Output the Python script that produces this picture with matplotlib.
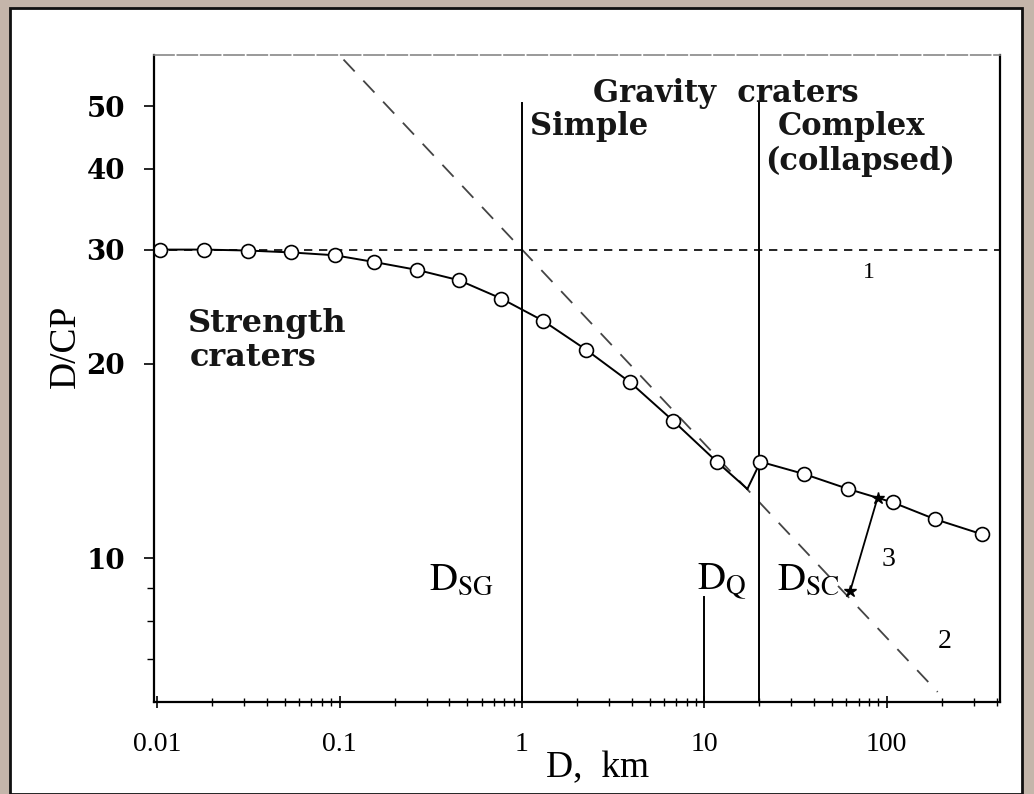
import matplotlib.pyplot as plt
from matplotlib.patches import Rectangle
from matplotlib.ticker import FixedLocator, NullFormatter

# crater depth-to-central-peak ratio vs diameter
diam = [0.0104, 0.0181, 0.0313, 0.0538, 0.094, 0.155, 0.267, 0.451, 0.77,
        1.30, 2.25, 3.92, 6.76, 11.7]
ratio = [30.0, 30.0, 29.9, 29.7, 29.4, 28.7, 27.9, 26.9, 25.2,
         23.3, 21.0, 18.7, 16.3, 14.1]

# drop at the simple/complex transition, then complex craters
kink_d, kink_r = 17.2, 12.8
diam_cx = [20.3, 35.2, 61.4, 108, 183, 331]
ratio_cx = [14.1, 13.5, 12.8, 12.2, 11.5, 10.9]

# line 3: shift from the gravity trend to the complex branch
shift_d = [63, 89]
shift_r = [8.9, 12.4]

# line 2: gravity trend, D/CP = 30 * D^-0.3
trend_d = [0.105, 190]
trend_exp = -0.3

x_ticks = [0.01, 0.1, 1, 10, 100]
x_labels = ['0.01', '0.1', '1', '10', '100']
y_ticks = [10, 20, 30, 40, 50]

serif = 'Liberation Serif'
label_font = 'DejaVu Serif'
plt.rcParams['mathtext.fontset'] = 'stix'

fig = plt.figure(figsize=(10.34, 7.94), dpi=100)
fig.patch.set_facecolor('#c4b5aa')
fig.patches.append(Rectangle((10 / 1034, 0), 1012 / 1034, 1 - 8 / 794,
                             transform=fig.transFigure, facecolor='white',
                             edgecolor='#111111', lw=2, zorder=-10))

ax = fig.add_axes([0.149, 0.116, 0.818, 0.815])
ax.set_facecolor('white')
ax.set_xscale('log')
ax.set_yscale('log')
ax.set_xlim(0.0096, 417)
ax.set_ylim(6, 60)

k = 'black'
ax.axhline(30, color=k, lw=1.2, ls=(0, (5, 4)))
tr = [30 * d ** trend_exp for d in trend_d]
ax.plot(trend_d, tr, color='#444444', lw=1.3, ls=(0, (9, 7)))

ax.plot([1, 1], [6, 50.5], color=k, lw=1.4)
ax.plot([20, 20], [6, 50.5], color=k, lw=1.4)
ax.plot([10, 10], [6, 8.7], color=k, lw=1.4)

ax.plot(diam + [kink_d], ratio + [kink_r], color=k, lw=1.4)
ax.plot([kink_d] + diam_cx, [kink_r] + ratio_cx, color=k, lw=1.4)
ax.plot(diam, ratio, 'o', ms=10, mfc='white', mec=k, mew=1.2)
ax.plot(diam_cx, ratio_cx, 'o', ms=10, mfc='white', mec=k, mew=1.2)
ax.plot(shift_d, shift_r, color=k, lw=1.3)
ax.plot(shift_d, shift_r, '*', color=k, ms=9)

ax.set_xticks(x_ticks)
ax.set_xticklabels(x_labels)
ax.set_yticks(y_ticks)
ax.set_yticklabels([str(v) for v in y_ticks])
ax.yaxis.set_minor_locator(FixedLocator([7, 8, 9]))
ax.yaxis.set_minor_formatter(NullFormatter())
ax.tick_params(axis='x', which='major', direction='inout', length=8, width=1.2,
               pad=18)
ax.tick_params(axis='x', which='minor', direction='inout', length=6, width=1)
ax.tick_params(axis='y', which='major', direction='out', length=7, width=1.2,
               pad=14)
ax.tick_params(axis='y', which='minor', direction='out', length=5, width=1)
for lab in ax.get_xticklabels():
    lab.set_fontfamily(serif)
    lab.set_fontsize(20)
for lab in ax.get_yticklabels():
    lab.set_fontfamily(label_font)
    lab.set_fontsize(20)
    lab.set_fontweight('bold')

for side in ['left', 'bottom', 'right']:
    ax.spines[side].set_linewidth(1.6)
ax.spines['top'].set_color('#888888')
ax.spines['top'].set_linewidth(1.2)
ax.spines['top'].set_linestyle((0, (12, 2)))

ax.set_xlabel('D,  km', fontfamily=serif, fontsize=27)
ax.xaxis.set_label_coords(0.524, -0.076)
ax.set_ylabel('D/CP', fontfamily=serif, fontsize=27)
ax.yaxis.set_label_coords(-0.084, 0.549)

tk = dict(fontfamily=label_font, fontweight='bold', fontsize=22,
          color='#161616', va='baseline')
ax.text(0.0147, 22.4, 'Strength', **dict(tk, fontsize=23))
ax.text(0.0150, 19.8, 'craters', **dict(tk, fontsize=23))
ax.text(2.45, 50.8, 'Gravity  craters', **tk)
ax.text(1.1, 45.1, 'Simple', **tk)
ax.text(25.3, 45.1, 'Complex', **tk)
ax.text(21.5, 39.8, '(collapsed)', **tk)
ax.text(74, 27.7, '1', fontfamily=serif, fontsize=17, va='center')
ax.text(94, 9.95, '3', fontfamily=serif, fontsize=20, va='center')
ax.text(190, 7.45, '2', fontfamily=serif, fontsize=20, va='center')

ds = dict(fontsize=28, va='baseline')
ax.text(0.31, 8.95, r'$\mathrm{D}_{\mathrm{SG}}$', **ds)
ax.text(9.1, 8.95, r'$\mathrm{D}_{\mathrm{Q}}$', **ds)
ax.text(25.0, 8.95, r'$\mathrm{D}_{\mathrm{SC}}$', **ds)

fig.savefig('out.png', dpi=100, facecolor=fig.get_facecolor())
